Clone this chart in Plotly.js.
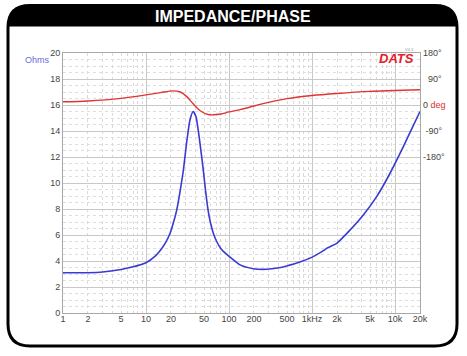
<!DOCTYPE html>
<html><head><meta charset="utf-8">
<script src="https://cdn.plot.ly/plotly-3.0.1.min.js"></script>
<style>html,body{margin:0;padding:0;background:#fff}#c{width:467px;height:356px}</style>
</head><body><div id="c"></div>
<script>
// Impedance (ohms) vs frequency (Hz)
const freqZ = [1,2,3,5,7,10,13,15,17,19.5,21.5,23.4,25.8,28.2,31,34,37,40,44,49,52,56,60,65,71,80,90,103,136,196,284,400,495,700,991,1300,1574,1984,2871,4150,6010,8710,12600,16000,20000];
const impedance = [3.1,3.1,3.15,3.35,3.55,3.87,4.4,4.85,5.35,6.13,7.0,7.9,9.4,11,13.2,14.9,15.5,15.1,13.4,11,9.5,7.9,6.9,6.1,5.5,4.95,4.6,4.3,3.7,3.41,3.36,3.48,3.62,3.9,4.28,4.7,5.05,5.36,6.38,7.54,8.95,10.75,12.8,14.2,15.5];
// Phase (degrees) vs frequency (Hz)
const freqP = [1,2,5,10,15,21,26,31,37,45,56,65,80,100,136,180,300,500,1000,2000,5000,10000,20000];
const phase = [11,14,23,35,43,49,45,29,4,-20,-33,-34,-31,-24,-16,-7,9,22,33,40,47,50,53];
// Tick labels
const xTickVals = [1,2,5,10,20,50,100,200,500,1000,2000,5000,10000,20000];
const xTickText = ['1','2','5','10','20','50','100','200','500','1kHz','2k','5k','10k','20k'];
const phaseTickVals = [-180,-90,0,90,180];
const phaseTickText = ['-180°','\u00a0-90°','0 <span style="color:#e03030">deg</span>','\u00a0\u00a090°','180°'];

const W = 467, H = 356;
const L = 63, R = 420, T = 52.5, B = 313;
const px = x => (x - L) / (R - L);
const py = y => (B - y) / (B - T);

const minorX = [];
for (let d = 1; d <= 10000; d *= 10) for (let k = 2; k <= 9; k++) if (d*k <= 20000) minorX.push(d*k);

function roundRect(x0, y0, x1, y1, r) {
  return `M${px(x0+r)},${py(y0)} L${px(x1-r)},${py(y0)} Q${px(x1)},${py(y0)} ${px(x1)},${py(y0+r)} ` +
         `L${px(x1)},${py(y1-r)} Q${px(x1)},${py(y1)} ${px(x1-r)},${py(y1)} L${px(x0+r)},${py(y1)} ` +
         `Q${px(x0)},${py(y1)} ${px(x0)},${py(y1-r)} L${px(x0)},${py(y0+r)} Q${px(x0)},${py(y0)} ${px(x0+r)},${py(y0)} Z`;
}
function headerPath(x0, y0, x1, y1, r) {
  return `M${px(x0)},${py(y1)} L${px(x0)},${py(y0+r)} Q${px(x0)},${py(y0)} ${px(x0+r)},${py(y0)} ` +
         `L${px(x1-r)},${py(y0)} Q${px(x1)},${py(y0)} ${px(x1)},${py(y0+r)} L${px(x1)},${py(y1)} Z`;
}

const font = 'Liberation Sans, Arial, sans-serif';
const traces = [
  {x: freqZ, y: impedance, type: 'scatter', mode: 'lines', xaxis: 'x', yaxis: 'y',
   line: {color: '#3a3ad2', width: 1.6, shape: 'spline', smoothing: 0.6}, hoverinfo: 'skip'},
  {x: freqP, y: phase, type: 'scatter', mode: 'lines', xaxis: 'x2', yaxis: 'y2',
   line: {color: '#e03434', width: 1.4, shape: 'spline', smoothing: 0.8}, hoverinfo: 'skip'}
];

const layout = {
  width: W, height: H,
  margin: {l: L, r: W - R, t: T, b: H - B, pad: 0},
  paper_bgcolor: '#fff', plot_bgcolor: '#fff',
  showlegend: false,
  font: {family: font, size: 9, color: '#444'},
  xaxis: {
    type: 'log', range: [0, Math.log10(20000)], tickvals: xTickVals, ticktext: xTickText,
    showgrid: false, zeroline: false, ticks: '', ticklabelstandoff: -3,
    showline: true, linecolor: '#a8a8a8', linewidth: 1, mirror: true,
    tickfont: {size: 9, color: '#444'},
    minor: {tickvals: minorX, showgrid: true, gridcolor: '#dadada', griddash: 'dot', gridwidth: 1, ticks: ''}
  },
  xaxis2: {
    type: 'log', range: [0, Math.log10(20000)], overlaying: 'x', anchor: 'y',
    tickvals: [1,10,100,1000,10000], showticklabels: false, ticks: '',
    showgrid: true, gridcolor: '#c8c8c8', gridwidth: 1, zeroline: false, showline: false
  },
  yaxis: {
    range: [0, 20], dtick: 2, tick0: 0, showgrid: true, gridcolor: '#c8c8c8', gridwidth: 1,
    zeroline: false, ticks: '', ticklabelstandoff: 0,
    showline: true, linecolor: '#a8a8a8', mirror: true,
    tickfont: {size: 9, color: '#444'},
    minor: {dtick: 0.5, showgrid: true, gridcolor: '#dedede', griddash: 'dot', ticks: ''}
  },
  yaxis2: {
    range: [-720, 180], overlaying: 'y', side: 'right', anchor: 'x',
    tickvals: phaseTickVals, ticktext: phaseTickText, showgrid: false, zeroline: false,
    ticks: '', ticklabelstandoff: 2, showline: false, tickfont: {size: 9, color: '#444'}
  },
  shapes: [
    {type: 'path', xref: 'paper', yref: 'paper', path: headerPath(8, 5, 457, 26, 22),
     fillcolor: '#000', line: {width: 0}, layer: 'above'},
    {type: 'path', xref: 'paper', yref: 'paper', path: roundRect(8, 5, 457, 346, 22),
     fillcolor: 'rgba(0,0,0,0)', line: {color: '#000', width: 3}, layer: 'above'}
  ],
  annotations: [
    {text: '<b>IMPEDANCE/PHASE</b>', xref: 'paper', yref: 'paper', x: px(233), y: py(15.5),
     xanchor: 'center', yanchor: 'middle', showarrow: false,
     font: {family: font, size: 16, color: '#fff'}},
    {text: 'Ohms', xref: 'paper', yref: 'paper', x: px(37), y: py(59.5),
     xanchor: 'center', yanchor: 'middle', showarrow: false,
     font: {family: font, size: 9, color: '#6a6ae0'}},
    {text: '<b><i>DATS</i></b>', xref: 'paper', yref: 'paper', x: px(416), y: py(58),
     xanchor: 'right', yanchor: 'middle', showarrow: false,
     font: {family: font, size: 13, color: '#e4202a'}},
    {text: 'V4.3', xref: 'paper', yref: 'paper', x: px(409), y: py(48.5),
     xanchor: 'center', yanchor: 'middle', showarrow: false,
     font: {family: font, size: 4, color: '#999'}}
  ]
};

Plotly.newPlot('c', traces, layout, {staticPlot: true, displayModeBar: false});
</script>
</body></html>
